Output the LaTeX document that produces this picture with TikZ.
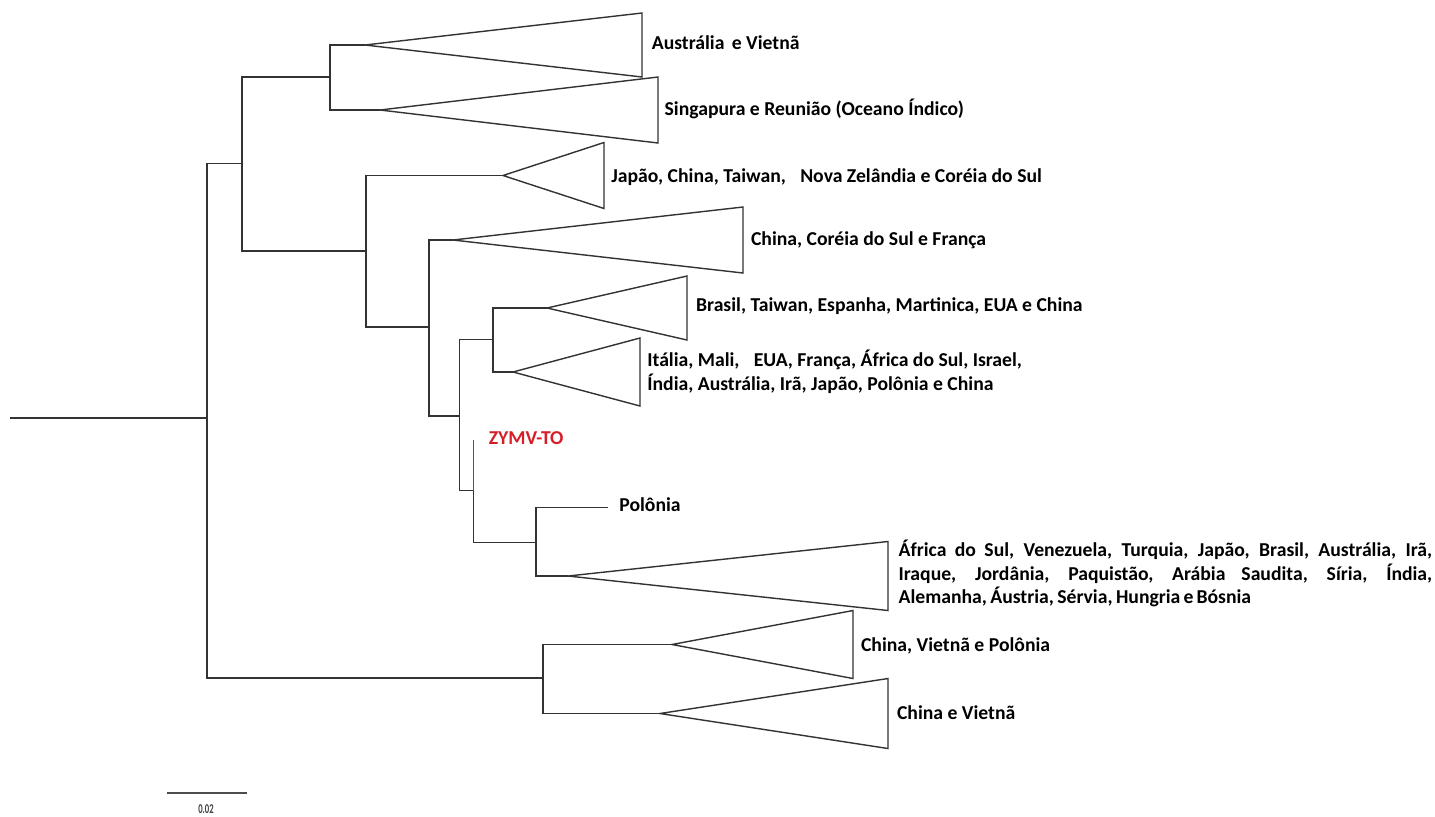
\documentclass[tikz,border=0pt]{standalone}
\usepackage{fontspec}
\setmainfont{Carlito}
\usetikzlibrary{positioning}
\definecolor{zymvred}{RGB}{214,30,40}

\tikzset{
  branch/.style={draw=black!80, line width=0.8pt},
  clade/.style={draw=black!80, line width=0.8pt, line join=miter},
  lbl/.style={anchor=base west, inner sep=0pt, font=\bfseries\fontsize{11.2}{13.4}\selectfont},
}

\begin{document}
\begin{tikzpicture}[x=0.02cm, y=-0.02cm]
    \useasboundingbox (0,0) rectangle (1435,816);
    % =============== inner nodes ====================
    \coordinate (r0) at (10,418);%left end of root
    \coordinate (n1) at (207,418);%root
    \coordinate (n2) at (242,163.5);
    \coordinate (n3) at (330,77);
    \coordinate (n5) at (366,251);
    \coordinate (n6) at (429,327);
    \coordinate (n7) at (459.5,416);
    \coordinate (n8) at (493,339.5);
    \coordinate (n10) at (473.3,490.7);
    \coordinate (n11) at (536,542.3);
    \coordinate (n9) at (543,678);
    % =============== leaves and apexes ====================
    \coordinate (aAus) at (365,45);
    \coordinate (aSin) at (380,110);
    \coordinate (aJap) at (503,175.5);
    \coordinate (aCor) at (453,240);
    \coordinate (aBra) at (547,308);
    \coordinate (aIta) at (513,372);
    \coordinate (zymv) at (473.3,440);%leaf ZYMV-TO
    \coordinate (pol) at (608,507.5);%leaf Polonia
    \coordinate (aBig) at (568,576);
    \coordinate (aCVP) at (672,644.5);
    \coordinate (aCV) at (660,713.5);
    % =============== branches ====================
    \draw[branch] (r0) -- (n1);
    \draw[branch] (n1) |- (n2);
    \draw[branch] (n1) |- (n9);
    \draw[branch] (n2) |- (n3);
    \draw[branch] (n2) |- (n5);
    \draw[branch] (n3) |- (aAus);
    \draw[branch] (n3) |- (aSin);
    \draw[branch] (n5) |- (aJap);
    \draw[branch] (n5) |- (n6);
    \draw[branch] (n6) |- (aCor);
    \draw[branch] (n6) |- (n7);
    \draw[branch] (n7) |- (n8);
    \draw[branch] (n7) |- (n10);
    \draw[branch] (n8) |- (aBra);
    \draw[branch] (n8) |- (aIta);
    \draw[branch, draw=zymvred, line width=0.5pt] (n10) -- (zymv);%red branch
    \draw[branch] (n10) |- (n11);
    \draw[branch] (n11) |- (pol);
    \draw[branch] (n11) |- (aBig);
    \draw[branch] (n9) |- (aCVP);
    \draw[branch] (n9) |- (aCV);
    % =============== collapsed clades ====================
    \draw[clade] (aAus) -- ++(277,-32) -- ++(0,64) -- cycle;
    \draw[clade] (aSin) -- ++(278,-33) -- ++(0,66) -- cycle;
    \draw[clade] (aJap) -- ++(101,-33) -- ++(0,66) -- cycle;
    \draw[clade] (aCor) -- ++(290,-33) -- ++(0,66) -- cycle;
    \draw[clade] (aBra) -- ++(140,-32) -- ++(0,64) -- cycle;
    \draw[clade] (aIta) -- ++(127,-34) -- ++(0,68) -- cycle;
    \draw[clade] (aBig) -- ++(320,-34.5) -- ++(0,69) -- cycle;
    \draw[clade] (aCVP) -- ++(181,-34) -- ++(0,68) -- cycle;
    \draw[clade] (aCV) -- ++(228,-35) -- ++(0,70) -- cycle;
    % =============== labels ====================
    \node (lAus) [lbl] at (651.5,49.5) {Austrália\hspace{0.15em} e Vietnã};
    \node (lSin) [lbl] at (664.3,115) {Singapura e Reunião (Oceano Índico)};
    \node (lJap) [lbl] at (611,182.8) {Japão, China, Taiwan,\hspace{0.5em} Nova Zelândia e Coréia do Sul};
    \node (lCor) [lbl] at (750.7,245.4) {China, Coréia do Sul e França};
    \node (lBra) [lbl] at (695.8,311) {Brasil, Taiwan, Espanha, Martinica, EUA e China};
    \node (lIta) [lbl] at (647,366.8) {\begin{tabular}[t]{@{}l@{}}Itália, Mali,\hspace{0.5em} EUA, França, África do Sul, Israel,\\ Índia, Austrália, Irã, Japão, Polônia e China\end{tabular}};
    \node (lZy) [lbl, text=zymvred] at (488.5,444.6) {ZYMV-TO};
    \node (lPol) [lbl] at (619,511) {Polônia};
    \node (lBig) [lbl] at (898.3,556.8) {\begin{tabular}[t]{@{}l@{}}\makebox[10.67cm][s]{África do Sul, Venezuela, Turquia, Japão, Brasil, Austrália, Irã,}\\ \makebox[10.67cm][s]{Iraque, Jordânia, Paquistão, Arábia Saudita, Síria, Índia,}\\ \makebox[7.05cm][s]{Alemanha, Áustria, Sérvia, Hungria e Bósnia}\end{tabular}};
    \node (lCVP) [lbl] at (860.7,651) {China, Vietnã e Polônia};
    \node (lCV) [lbl] at (896.7,719) {China e Vietnã};
    % =============== scale bar ====================
    \coordinate (s0) at (167,793);
    \coordinate (s1) at (247,793);
    \draw[branch, line width=1pt, draw=black!70] (s0) -- (s1);
    \node (lScale) [anchor=center, inner sep=0pt, text=black!75, font=\bfseries\fontsize{7}{8}\selectfont] at (206,809.5) {\scalebox{0.7}[1.1]{0.02}};
\end{tikzpicture}
\end{document}
